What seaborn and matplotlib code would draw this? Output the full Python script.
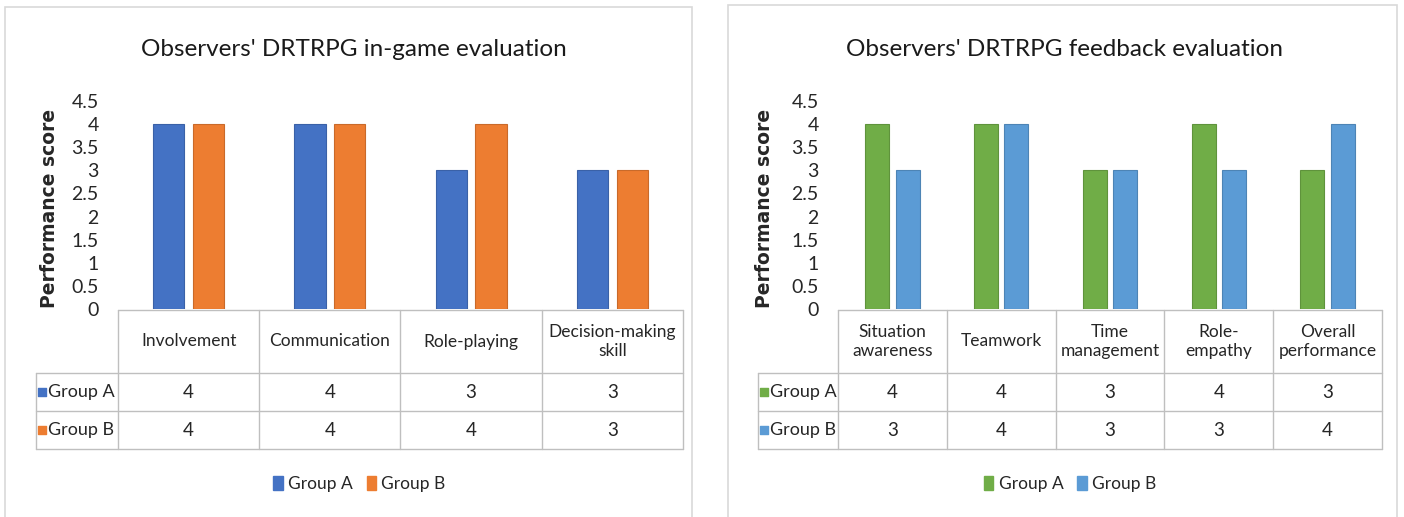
import matplotlib
matplotlib.use("Agg")
import matplotlib.pyplot as plt
import matplotlib.colors as mcolors
from matplotlib.patches import Rectangle, Patch
from matplotlib.ticker import FuncFormatter
import seaborn as sns
import pandas as pd
import numpy as np

sns.set_theme(style="white")
plt.rcParams['font.family'] = ['Lato', 'DejaVu Sans']

W, H = 1404, 517

# Data
groups = ['Group A', 'Group B']
score_ticks = [0, 0.5, 1, 1.5, 2, 2.5, 3, 3.5, 4, 4.5]

ingame_title = "Observers' DRTRPG in-game evaluation"
ingame_skills = ['Involvement', 'Communication', 'Role-playing', 'Decision-making\nskill']
ingame_a = [4, 4, 3, 3]
ingame_b = [4, 4, 4, 3]
ingame_colors = ['#4472C4', '#ED7D31']

feedback_title = "Observers' DRTRPG feedback evaluation"
feedback_skills = ['Situation\nawareness', 'Teamwork', 'Time\nmanagement', 'Role-\nempathy', 'Overall\nperformance']
feedback_a = [4, 4, 3, 4, 3]
feedback_b = [3, 4, 3, 3, 4]
feedback_colors = ['#70AD47', '#5B9BD5']

GRID = '#BFBFBF'
FRAME = '#D9D9D9'
TXT = '#262626'


def px_box(x0, y0, x1, y1):
    """figure-fraction box from pixel corners (y measured from the top)"""
    return [x0 / W, 1 - y1 / H, (x1 - x0) / W, (y1 - y0) / H]


def darker(c, f=0.85):
    r, g, b = mcolors.to_rgb(c)
    return (r * f, g * f, b * f)


def draw_panel(fig, frame, title, title_x, plot_x0, plot_x1, label_x0, ylabel_x,
               skills, vals_a, vals_b, colors):
    # panel frame
    fx0, fy0, fx1 = frame
    fig.patches.append(Rectangle((fx0 / W, -0.01), (fx1 - fx0) / W, 1 - fy0 / H + 0.01,
                                 transform=fig.transFigure, fill=False,
                                 edgecolor=FRAME, lw=1.2))

    fig.text(title_x / W, 1 - 49 / H, title, ha='center', va='center',
             fontsize=17.5, color='#1a1a1a')

    # bars
    df = pd.DataFrame({
        'skill': skills * 2,
        'group': [groups[0]] * len(skills) + [groups[1]] * len(skills),
        'score': vals_a + vals_b,
    })
    ax = fig.add_axes(px_box(plot_x0, 101, plot_x1, 309))
    sns.barplot(data=df, x='skill', y='score', hue='group', palette=colors,
                width=0.56, gap=0.21, ax=ax, legend=False, saturation=1)
    for cont, c in zip(ax.containers, colors):
        for p in cont:
            p.set_edgecolor(darker(c))
            p.set_linewidth(0.8)
    n = len(skills)
    ax.set_xlim(-0.5, n - 0.5)
    ax.set_ylim(0, 4.5)
    ax.set_yticks(score_ticks)
    ax.yaxis.set_major_formatter(FuncFormatter(lambda v, _: f'{v:g}'))
    ax.tick_params(axis='y', length=0, pad=14, labelsize=14, labelcolor=TXT)
    ax.tick_params(axis='x', bottom=False, labelbottom=False)
    ax.set_xlabel('')
    ax.set_ylabel('')
    for s in ax.spines.values():
        s.set_visible(False)
    ax.patch.set_alpha(0)

    fig.text(ylabel_x / W, 1 - 208 / H, 'Performance score', rotation=90,
             ha='center', va='center', fontsize=13.5, fontweight='bold',
             family='DejaVu Sans', color=TXT)

    # data table under the bars
    col_px = (plot_x1 - plot_x0) / n
    lab_w = (plot_x0 - label_x0) / col_px
    tab = fig.add_axes(px_box(label_x0, 310, plot_x1, 449))
    tab.set_xlim(-0.5 - lab_w, n - 0.5)
    tab.set_ylim(139, 0)
    tab.axis('off')
    left = -0.5 - lab_w
    rows = [0, 63, 101, 139]
    tab.plot([-0.5, n - 0.5], [0, 0], color=GRID, lw=1, clip_on=False)
    for y in rows[1:]:
        tab.plot([left, n - 0.5], [y, y], color=GRID, lw=1, clip_on=False)
    tab.plot([left, left], [63, 139], color=GRID, lw=1, clip_on=False)
    for i in range(n + 1):
        tab.plot([i - 0.5, i - 0.5], [0, 139], color=GRID, lw=1, clip_on=False)
    for i, s in enumerate(skills):
        tab.text(i, 31.5, s, ha='center', va='center', fontsize=12.5, color=TXT,
                 linespacing=1.3)
    for r, (g, vals, c) in enumerate(zip(groups, [vals_a, vals_b], colors)):
        yc = (rows[r + 1] + rows[r + 2]) / 2
        for i, v in enumerate(vals):
            tab.text(i, yc, f'{v:g}', ha='center', va='center', fontsize=13.5, color=TXT)
        tab.scatter([left + 6 / col_px], [yc], marker='s', s=40, color=c, clip_on=False)
        tab.text(left + 12 / col_px, yc, g, ha='left', va='center', fontsize=13, color=TXT)

    # legend
    handles = [Patch(facecolor=c, edgecolor=c, label=g) for g, c in zip(groups, colors)]
    fig.legend(handles=handles, loc='center', ncol=2, frameon=False,
               bbox_to_anchor=(((label_x0 + plot_x1) / 2) / W, 1 - 484 / H),
               fontsize=12.5, handlelength=0.55, handleheight=0.8, handletextpad=0.3,
               columnspacing=0.8, labelcolor=TXT)
    return ax


fig = plt.figure(figsize=(W / 100, H / 100), dpi=100)
fig.patch.set_facecolor('white')

draw_panel(fig, (5, 7, 692), ingame_title, 354, 118, 683, 36, 50,
           ingame_skills, ingame_a, ingame_b, ingame_colors)
draw_panel(fig, (728, 5, 1397), feedback_title, 1065, 838, 1382, 758, 765,
           feedback_skills, feedback_a, feedback_b, feedback_colors)

fig.savefig('out.png', dpi=100, facecolor='white')
